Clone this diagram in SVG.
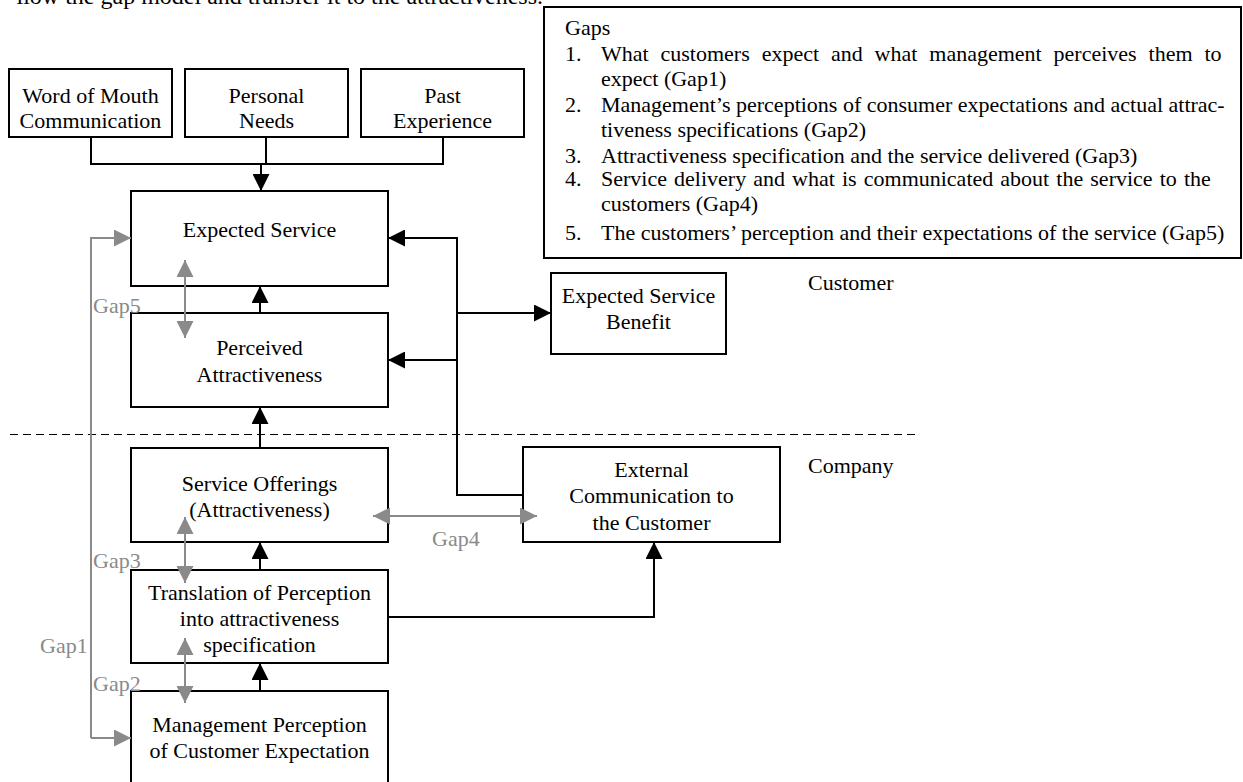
<svg xmlns="http://www.w3.org/2000/svg" width="1243" height="782" viewBox="0 0 1243 782">
  <style>
    .box { fill: #fff; stroke: #000; stroke-width: 2; }
    .t { font-family: "Liberation Serif", "Times New Roman", serif; font-size: 22px; fill: #000; }
    .c { text-anchor: middle; }
    .gl { font-family: "Liberation Serif", "Times New Roman", serif; font-size: 22px; fill: #8a8a8a; }
    .k { fill: none; stroke: #000; stroke-width: 2; }
    .g { fill: none; stroke: #8a8a8a; stroke-width: 2; }
    .dash { fill: none; stroke: #000; stroke-width: 1; stroke-dasharray: 8 5; }
  </style>
  <defs>
    <marker id="ak" markerUnits="userSpaceOnUse" markerWidth="17" markerHeight="17" viewBox="0 0 17 17" refX="17" refY="8.5" orient="auto">
      <path d="M0,0 L17,8.5 L0,17 z" fill="#000"/>
    </marker>
    <marker id="ag" markerUnits="userSpaceOnUse" markerWidth="17" markerHeight="17" viewBox="0 0 17 17" refX="17" refY="8.5" orient="auto-start-reverse">
      <path d="M0,0 L17,8.5 L0,17 z" fill="#8a8a8a"/>
    </marker>
  </defs>

  <rect width="1243" height="782" fill="#fff"/>

  <!-- running text above the figure -->
  <text class="t" x="543" y="4" text-anchor="end" style="font-size:24px">llow the gap model and transfer it to the attractiveness.</text>

  <!-- legend -->
  <g id="legend">
    <rect class="box" x="544" y="7" width="697" height="251"/>
    <text class="t" x="565" y="35">Gaps</text>
    <text class="t" x="565" y="61">1.</text>
    <text class="t" x="601" y="61" word-spacing="6.4">What customers expect and what management perceives them to</text>
    <text class="t" x="601" y="86">expect (Gap1)</text>
    <text class="t" x="565" y="112">2.</text>
    <text class="t" x="601" y="112">Management’s perceptions of consumer expectations and actual attrac-</text>
    <text class="t" x="601" y="137">tiveness specifications (Gap2)</text>
    <text class="t" x="565" y="163">3.</text>
    <text class="t" x="601" y="163">Attractiveness specification and the service delivered (Gap3)</text>
    <text class="t" x="565" y="186">4.</text>
    <text class="t" x="601" y="186" word-spacing="1.6">Service delivery and what is communicated about the service to the</text>
    <text class="t" x="601" y="211">customers (Gap4)</text>
    <text class="t" x="565" y="240">5.</text>
    <text class="t" x="601" y="240">The customers’ perception and their expectations of the service (Gap5)</text>
  </g>

  <!-- region labels and divider -->
  <g id="regions">
    <line class="dash" x1="10" y1="434.5" x2="915" y2="434.5"/>
    <text class="t" x="808" y="290">Customer</text>
    <text class="t" x="808" y="473">Company</text>
  </g>

  <!-- nodes -->
  <g id="word-of-mouth">
    <rect class="box" x="9" y="69" width="163" height="68"/>
    <text class="t c" x="90.5" y="103">Word of Mouth</text>
    <text class="t c" x="90.5" y="128">Communication</text>
  </g>
  <g id="personal-needs">
    <rect class="box" x="185" y="69" width="163" height="68"/>
    <text class="t c" x="266.5" y="103">Personal</text>
    <text class="t c" x="266.5" y="128">Needs</text>
  </g>
  <g id="past-experience">
    <rect class="box" x="361" y="69" width="163" height="68"/>
    <text class="t c" x="442.5" y="103">Past</text>
    <text class="t c" x="442.5" y="128">Experience</text>
  </g>
  <g id="expected-service">
    <rect class="box" x="131" y="191" width="257" height="95"/>
    <text class="t c" x="259.5" y="237">Expected Service</text>
  </g>
  <g id="perceived-attractiveness">
    <rect class="box" x="131" y="313" width="257" height="94"/>
    <text class="t c" x="259.5" y="355">Perceived</text>
    <text class="t c" x="259.5" y="382">Attractiveness</text>
  </g>
  <g id="expected-service-benefit">
    <rect class="box" x="551" y="273" width="175" height="81"/>
    <text class="t c" x="638.5" y="303">Expected Service</text>
    <text class="t c" x="638.5" y="329">Benefit</text>
  </g>
  <g id="service-offerings">
    <rect class="box" x="131" y="448" width="257" height="94"/>
    <text class="t c" x="259.5" y="491">Service Offerings</text>
    <text class="t c" x="259.5" y="517">(Attractiveness)</text>
  </g>
  <g id="external-communication">
    <rect class="box" x="523" y="447" width="257" height="95"/>
    <text class="t c" x="651.5" y="477">External</text>
    <text class="t c" x="651.5" y="503">Communication to</text>
    <text class="t c" x="651.5" y="530">the Customer</text>
  </g>
  <g id="translation">
    <rect class="box" x="131" y="570" width="257" height="93"/>
    <text class="t c" x="259.5" y="600">Translation of Perception</text>
    <text class="t c" x="259.5" y="626">into attractiveness</text>
    <text class="t c" x="259.5" y="652">specification</text>
  </g>
  <g id="management-perception">
    <rect class="box" x="131" y="691" width="257" height="100"/>
    <text class="t c" x="259.5" y="732">Management Perception</text>
    <text class="t c" x="259.5" y="758">of Customer Expectation</text>
  </g>

  <!-- connectors, drawn over the boxes -->
  <g id="connectors">
    <path class="k" d="M91,137 V164 H443 V137"/>
    <path class="k" d="M266,137 V164"/>
    <path class="k" d="M261,164 V191" marker-end="url(#ak)"/>
    <path class="k" d="M260,313 V286" marker-end="url(#ak)"/>
    <path class="k" d="M260,448 V407" marker-end="url(#ak)"/>
    <path class="k" d="M260,570 V542" marker-end="url(#ak)"/>
    <path class="k" d="M260,691 V663" marker-end="url(#ak)"/>
    <path class="k" d="M523,495 H457 V238 H388" marker-end="url(#ak)"/>
    <path class="k" d="M457,360 H388" marker-end="url(#ak)"/>
    <path class="k" d="M457,313 H551" marker-end="url(#ak)"/>
    <path class="k" d="M388,617 H654 V542" marker-end="url(#ak)"/>

    <path class="g" d="M91,738 V238 H131" marker-end="url(#ag)"/>
    <path class="g" d="M91,738 H131" marker-end="url(#ag)"/>
    <path class="g" d="M185,260 V338" marker-start="url(#ag)" marker-end="url(#ag)"/>
    <path class="g" d="M185,517 V583" marker-start="url(#ag)" marker-end="url(#ag)"/>
    <path class="g" d="M185,638 V703" marker-start="url(#ag)" marker-end="url(#ag)"/>
    <path class="g" d="M373,516 H537" marker-start="url(#ag)" marker-end="url(#ag)"/>

    <text class="gl" x="93" y="313">Gap5</text>
    <text class="gl" x="93" y="568">Gap3</text>
    <text class="gl" x="93" y="691">Gap2</text>
    <text class="gl" x="40" y="653">Gap1</text>
    <text class="gl" x="432" y="546">Gap4</text>
  </g>
</svg>
